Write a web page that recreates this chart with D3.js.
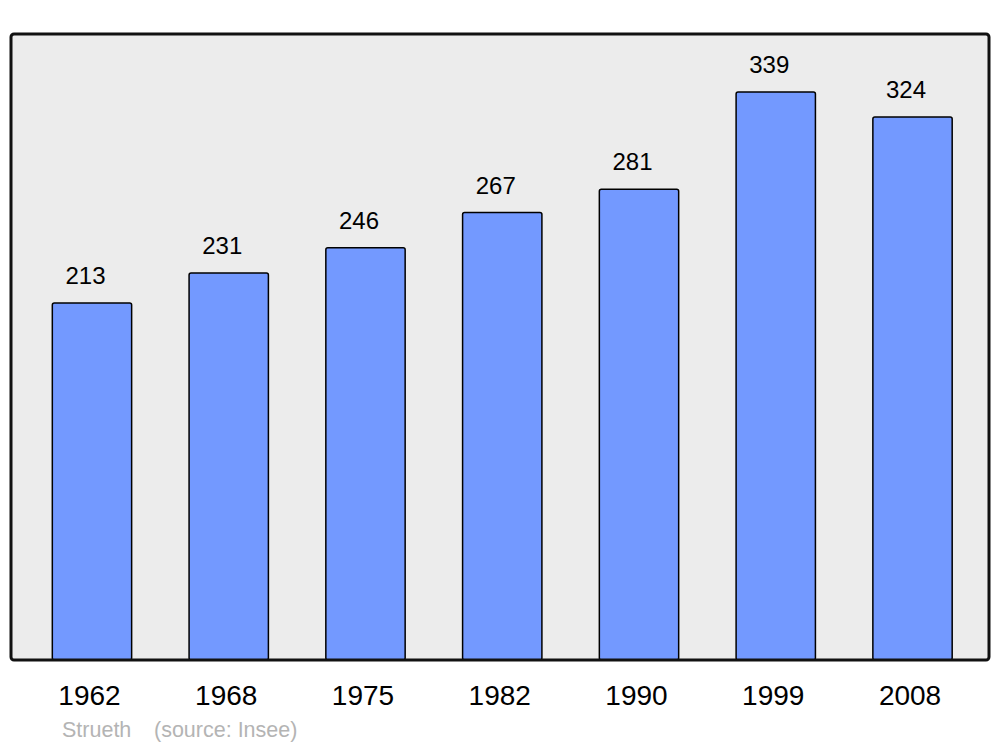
<!DOCTYPE html>
<html><head><meta charset="utf-8">
<script src="https://cdn.jsdelivr.net/npm/d3@7"></script>
<style>html,body{margin:0;padding:0;background:#fff}</style>
</head><body>
<script>
const years = ["1962","1968","1975","1982","1990","1999","2008"];
const population = [213,231,246,267,281,339,324];
const creditLabels = ["Strueth","(source: Insee)"];

const W=1000,H=747;
const svg=d3.select("body").append("svg").attr("width",W).attr("height",H);
const font="'Liberation Sans', Arial, sans-serif";

const frame={x0:11,x1:989,y0:34,y1:660};
svg.append("rect").attr("x",frame.x0).attr("y",frame.y0)
  .attr("width",frame.x1-frame.x0).attr("height",frame.y1-frame.y0)
  .attr("rx",3).attr("fill","#ececec");

const x=d3.scaleBand().domain(years).range([23.6,980.9]).paddingInner(0.42).paddingOuter(0.21);
const y=d3.scaleLinear().domain([0,373.6]).range([frame.y1,frame.y0]);

const data=years.map((yr,i)=>({year:yr,value:population[i]}));

svg.selectAll("rect.bar").data(data).enter().append("rect").attr("class","bar")
  .attr("x",d=>x(d.year)).attr("y",d=>y(d.value))
  .attr("width",x.bandwidth()).attr("height",d=>y(0)-y(d.value))
  .attr("rx",2).attr("fill","#7399ff").attr("stroke","#000").attr("stroke-width",1.5);

svg.selectAll("text.val").data(data).enter().append("text").attr("class","val")
  .attr("x",d=>x(d.year)+x.bandwidth()/2-6.5).attr("y",d=>y(d.value)-19)
  .attr("text-anchor","middle").attr("font-family",font).attr("font-size",24)
  .attr("fill","#000").text(d=>d.value);

// frame border on top
svg.append("rect").attr("x",frame.x0).attr("y",frame.y0)
  .attr("width",frame.x1-frame.x0).attr("height",frame.y1-frame.y0)
  .attr("rx",3).attr("fill","none").attr("stroke","#111").attr("stroke-width",3);

const xAxis=svg.append("g").attr("transform",`translate(-2.5,${frame.y1})`)
  .call(d3.axisBottom(x).tickSize(0).tickPadding(0));
xAxis.select(".domain").remove();
xAxis.selectAll("text").attr("font-family",font).attr("font-size",28).attr("fill","#000")
  .attr("dy",null).attr("y",45);

svg.append("text").attr("x",62).attr("y",737).attr("font-family",font).attr("font-size",21.5)
  .attr("fill","#b4b4b4").text(creditLabels[0]);
svg.append("text").attr("x",154).attr("y",737).attr("font-family",font).attr("font-size",21.5)
  .attr("fill","#b4b4b4").text(creditLabels[1]);
</script>
</body></html>
